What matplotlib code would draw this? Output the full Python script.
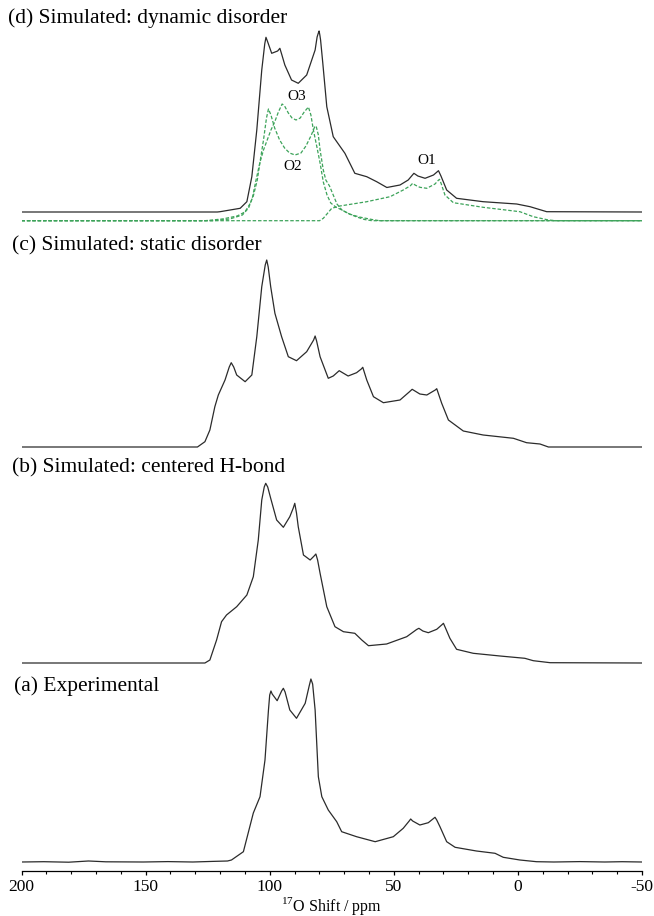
#!/usr/bin/env python3
# stacked 17O NMR spectra: experimental vs three simulations
import numpy as np
import matplotlib
matplotlib.use('Agg')
import matplotlib.pyplot as plt

plt.rcParams['font.family'] = ['Liberation Serif', 'DejaVu Serif']
plt.rcParams['mathtext.fontset'] = 'custom'
plt.rcParams['mathtext.rm'] = 'Liberation Serif'
plt.rcParams['axes.unicode_minus'] = False

######### spectra (ppm, intensity above own baseline) #########
ppm_a = [200, 191, 181, 173, 166, 151, 141, 131, 123, 117, 115.4, 110.6, 106.6, 103.9,
         101.9, 100.5, 100.0, 99.5, 99.0, 97.0, 95.2, 94.5, 93.8, 91.9, 89.2, 85.7, 84.1,
         83.4, 82.7, 81.7, 80.4, 79.0, 76.4, 73.0, 71.0, 65.0, 57.5, 50.2, 46.2, 43.8,
         43.2, 42.4, 39.5, 36.1, 34.0, 33.4, 32.7, 31.4, 28.7, 25.3, 16.7, 9.2, 5.9,
         -0.8, -7.5, -14.5, -25, -35, -42, -50]
int_a = [0, 0.3, -0.2, 1.0, 0.2, 0, 0.4, 0, 0.6, 1, 2, 10.3, 49, 65.3,
         102, 152, 167, 171, 168, 161.3, 171, 173.7, 170, 152, 143.7, 158.7, 176,
         183, 178, 152, 85.3, 65.3, 52, 40.3, 30.3, 25.3, 20.3, 25.3, 33.7, 41,
         43, 41, 37, 39.3, 43.5, 44.7, 42, 35.3, 20.3, 14.7, 11, 8.7, 4.7,
         2, 0.3, 0, 0.4, 0, 0.3, 0]

ppm_b = [200, 126.1, 124.1, 121.4, 119.4, 117.4, 113.3, 109.2, 106.6, 104.6, 103.2, 102.2,
         101.6, 100.8, 99.6, 97.2, 94.5, 91.9, 90.5, 89.9, 89.2, 88.5, 86.4, 83.7, 82.1,
         81.4, 80.7, 79.7, 77.0, 73.7, 70.3, 65.7, 62.9, 60.2, 52.9, 44.8, 40.8, 39.9,
         38.3, 36.1, 32.7, 30.5, 30.0, 29.0, 27.4, 24.7, 18.0, 7.2, -2.8, -6.2, -13.0, -50]
int_b = [0, 0, 3, 23, 41.3, 48, 56.3, 68, 86.3, 123, 163, 176,
         179.7, 176, 164.7, 143, 135.7, 146.3, 155, 159.7, 150, 136.3, 108, 103, 107,
         109, 103, 89.7, 56.3, 36.3, 31.3, 29.7, 23, 17.3, 19, 26.3, 33.5, 34.7,
         32, 30.3, 33.7, 38.5, 39.7, 34, 24.7, 13.7, 9.7, 7, 4.7, 2.3, 0.3, 0]

ppm_c = [200, 129.1, 126.1, 124.1, 122.1, 120.7, 118.0, 116.3, 115.5, 114.5, 113.3, 109.9,
         107.2, 105.2, 103.2, 101.8, 101.2, 100.6, 99.6, 97.9, 95.2, 92.5, 89.2, 85.1, 82.3,
         81.7, 81.1, 79.7, 76.4, 74.4, 72.0, 68.4, 65.0, 63.1, 62.5, 60.9, 58.2, 54.2,
         47.5, 43.8, 42.6, 39.5, 36.7, 33.3, 32.7, 30.7, 28.0, 22.0, 14.0, 1.8, -3.5,
         -8.9, -12.3, -50]
int_c = [0, 0, 5.3, 17, 40.3, 52, 67, 80, 84.3, 80, 72, 65.3,
         72, 110.3, 160.3, 182, 187, 180, 160.3, 133.7, 110.3, 90.3, 86.3, 95.3, 107,
         111, 106, 90.3, 68.7, 71, 76.3, 71, 74.3, 78, 79.7, 67, 50.3, 44.3,
         47, 55, 57.7, 53, 52, 57, 58.3, 43.7, 27, 16, 12, 8.7, 4.3,
         3, 0, 0]

ppm_d = [200, 121.1, 120.0, 111.9, 109.2, 107.2, 105.2, 103.2, 102.0, 101.5, 100.8, 99.2,
         96.8, 95.9, 95.2, 93.9, 91.2, 88.5, 85.1, 81.7, 80.9, 80.4, 80.1, 79.8, 79.5,
         78.6, 77.0, 74.4, 69.7, 65.7, 60.9, 56.9, 52.8, 47.5, 44.2, 41.9, 40.3, 37.4,
         34.0, 32.0, 31.0, 28.7, 24.7, 14.0, 0.5, -4.9, -11.6, -50]
int_d = [0, 0, 0.3, 3.7, 10.3, 35.3, 82, 142, 168, 174.7, 170, 158.7,
         161, 163.7, 158, 147, 132, 128.7, 137, 162, 175, 179, 181, 177, 172,
         148.7, 105.3, 75.3, 58.7, 38.7, 35.3, 30.3, 24.5, 27, 32, 38.7, 36, 33.7,
         37, 41.3, 36, 22, 13.7, 10.3, 8, 5.3, 0.3, 0]

# fitted sites for (d), dashed
ppm_O2 = [200, 126.1, 119.1, 113.1, 110.0, 108.0, 106.6, 105.0, 103.9, 102.5, 101.3, 100.5,
          99.5, 98.0, 96.0, 94.0, 92.0, 89.8, 87.4, 85.4, 83.4, 81.9, 81.3, 80.4, 79.7,
          78.4, 77.4, 75.9, 74.4, 72.9, 70.9, 67.9, 63.9, 58.8, 55.8, -50]
int_O2 = [0, 0, 1.7, 4.7, 8.7, 16.7, 24.7, 40.7, 58.7, 80.7, 102.7, 111.7,
          105.7, 92.7, 80.7, 72.7, 67.7, 65.7, 67.7, 74.7, 84.7, 93.7, 94.7, 85.7, 70.7,
          50.7, 40.7, 34.7, 25.7, 16.7, 10.7, 6.7, 3.7, 1.2, 0, 0]
ppm_O3 = [200, 123.1, 116.1, 111.0, 108.5, 107.0, 105.5, 104.0, 102.5, 101.0, 99.5, 98.0,
          96.5, 95.0, 94.0, 92.5, 91.0, 89.4, 87.7, 86.1, 84.4, 83.4, 82.4, 80.9, 79.7,
          78.4, 76.9, 75.4, 73.4, 70.9, 67.9, 64.9, 61.8, 58.8, -50]
int_O3 = [0, 0, 1.7, 5.7, 12.7, 22.7, 40.7, 57.7, 70.7, 80.7, 90.7, 98.7,
          108.7, 116.7, 114.7, 107.7, 102.7, 100.7, 102.7, 108.7, 113.7, 105.7, 90.7, 72.7, 57.7,
          38.7, 25.7, 17.7, 13.7, 10.7, 6.7, 3.7, 1.2, 0, 0]
ppm_O1 = [200, 79.9, 78.4, 75.0, 71.7, 60.9, 51.5, 46.2, 43.3, 42.4, 41.3, 39.5, 36.7, 33.4,
          32.2, 31.6, 30.9, 29.4, 26.0, 14.0, -0.8, -6.2, -12.3, -15.5, -50]
int_O1 = [0, 0, 2.4, 12.4, 14.7, 19, 24, 30.7, 35, 37.4, 35.5, 33.4, 32.4, 36.7,
          40, 41.4, 37, 25.7, 18, 13.4, 9, 4, 0.7, 0, 0]

labels = ['(a) Experimental', '(b) Simulated: centered H-bond',
          '(c) Simulated: static disorder', '(d) Simulated: dynamic disorder']
site_labels = ['O1', 'O2', 'O3']

###############################
W, H = 654, 916
AX_Y = 871.3          # pixel row of the axis line
offsets = [AX_Y - 862, AX_Y - 663, AX_Y - 447, AX_Y - 212]
green_off = AX_Y - 220.7
label_px = [(14, 686.5), (11.5, 468), (11.5, 245.5), (8, 18)]
site_px = [(426.7, 161), (292.7, 166), (296.7, 96.7)]

fig = plt.figure(figsize=(W / 100, H / 100), dpi=100)
ax = fig.add_axes([21.5 / W, (H - AX_Y) / H, 620.5 / W, AX_Y / H])

black = '#2b2b2b'
green = '#3da35a'
spectra = [(ppm_a, int_a), (ppm_b, int_b), (ppm_c, int_c), (ppm_d, int_d)]
for (p, v), off in zip(spectra, offsets):
    ax.plot(p, np.array(v) + off, color=black, lw=0.9)

for p, v in [(ppm_O1, int_O1), (ppm_O2, int_O2), (ppm_O3, int_O3)]:
    ax.plot(p, np.array(v) + green_off, color=green, lw=0.9, ls=(0, (2.8, 1.5)))

for txt, (x, y) in zip(labels, label_px):
    fig.text(x / W, 1 - y / H, txt, fontsize=15.5, ha='left', va='center')
for txt, (x, y) in zip(site_labels, site_px):
    fig.text(x / W, 1 - y / H, txt, fontsize=11, ha='center', va='center')

ax.set_xlim(200, -50)
ax.set_ylim(0, AX_Y)
for s in ['left', 'right', 'top']:
    ax.spines[s].set_visible(False)
ax.spines['bottom'].set_linewidth(0.9)
ax.set_yticks([])
ax.set_xticks([200, 150, 100, 50, 0, -50])
ax.set_xticklabels(['200', '150', '100', '50', '0', '-50'])
ax.set_xticks(np.arange(-50, 201, 10), minor=True)
ax.tick_params(axis='x', which='major', direction='out', length=3.2, width=0.9,
               labelsize=12.5, pad=2.5)
ax.tick_params(axis='x', which='minor', direction='out', length=2.2, width=0.8)
ax.set_xlabel(r'$^{17}$O Shift / ppm', fontsize=11.5)
ax.xaxis.set_label_coords(0.5, -23.5 / AX_Y)

plt.savefig('out.png', dpi=100)
plt.close()
